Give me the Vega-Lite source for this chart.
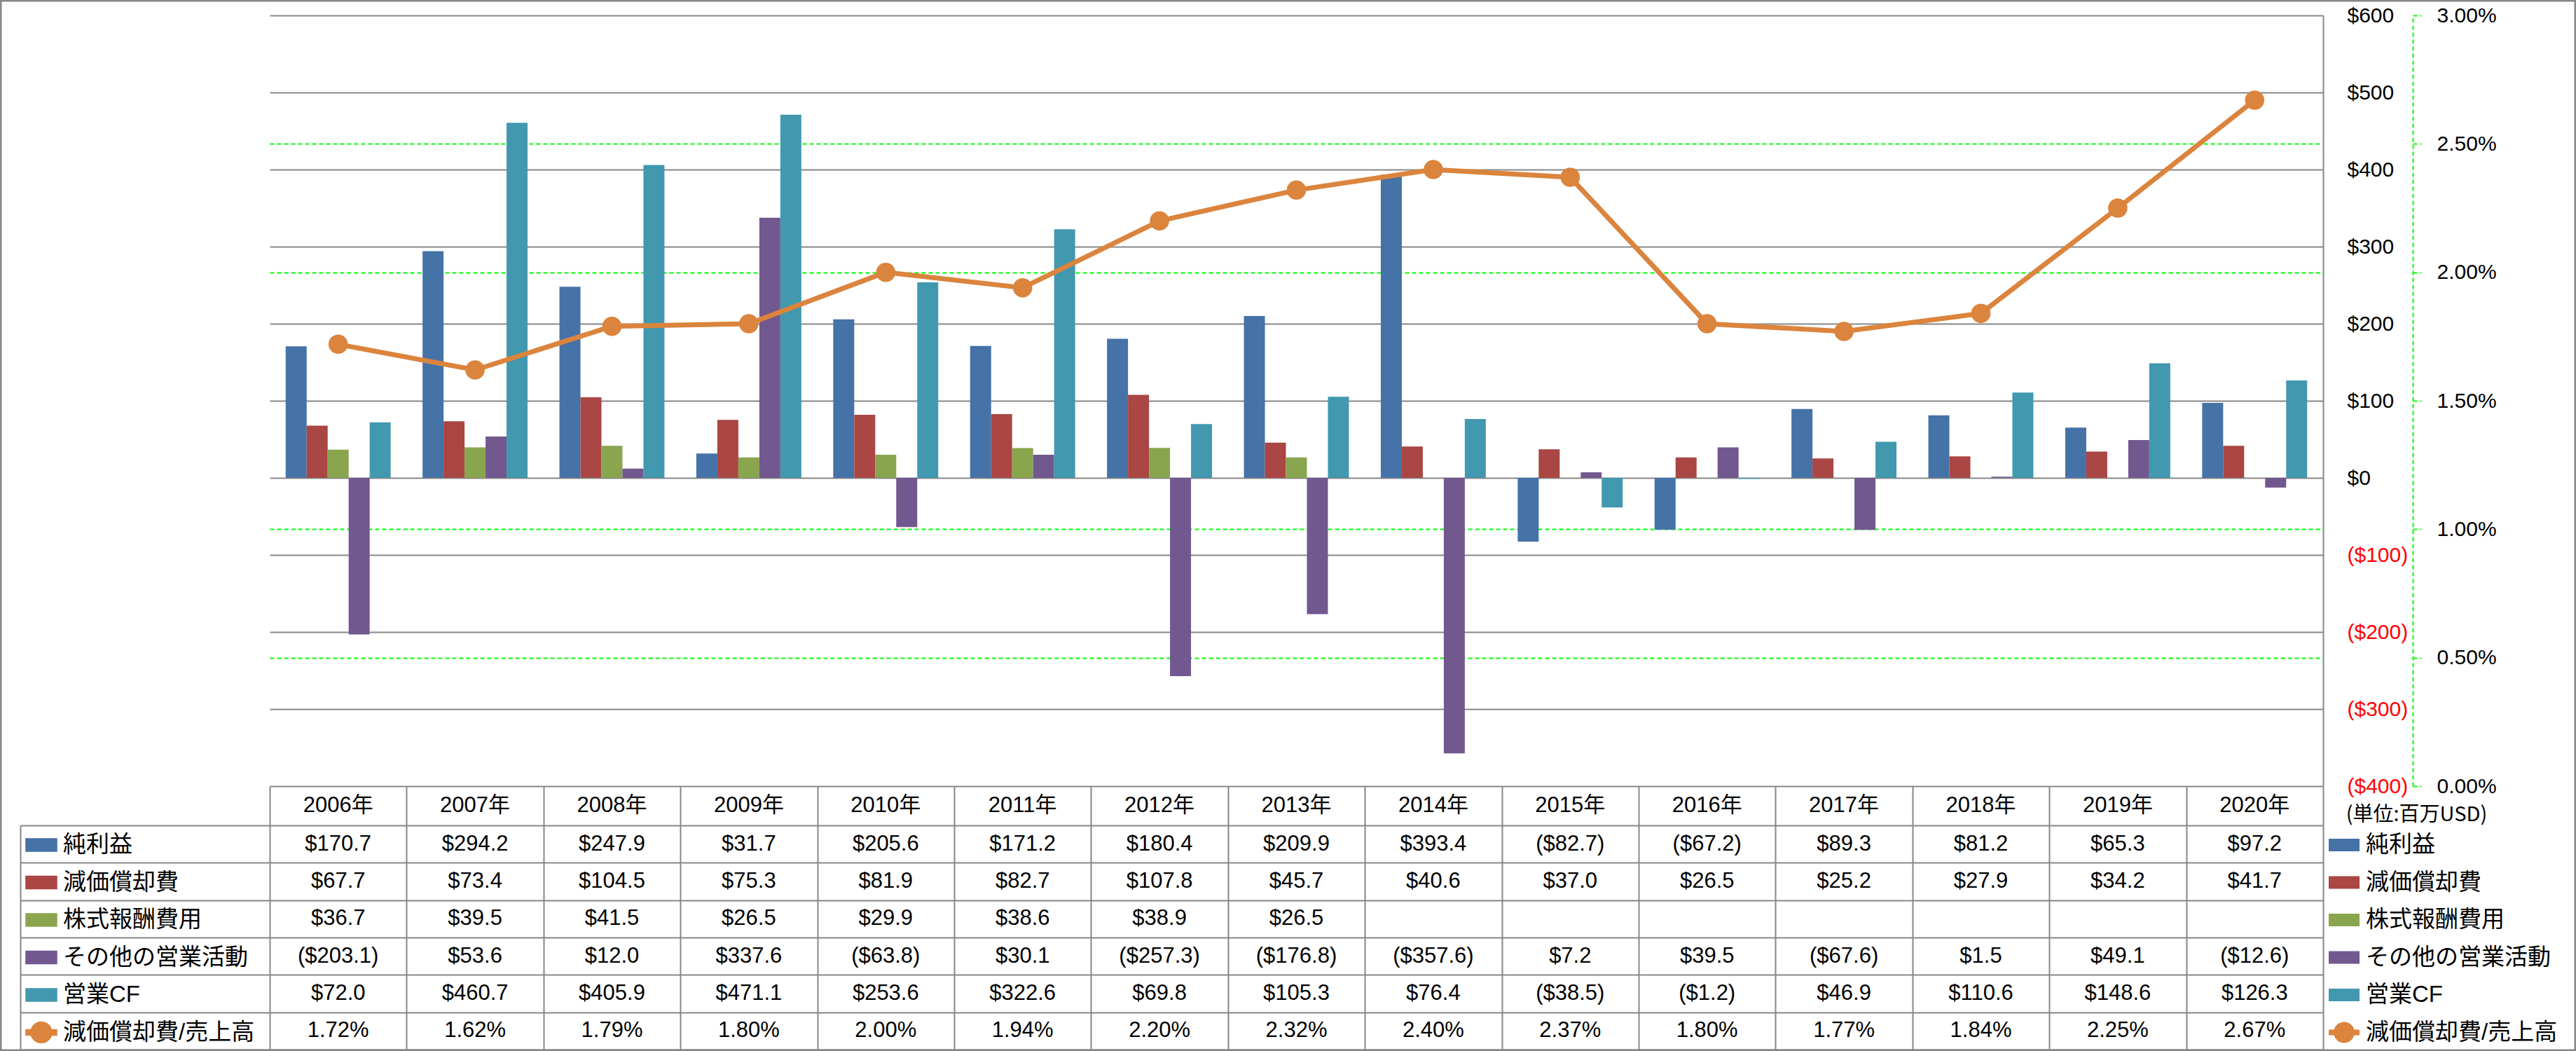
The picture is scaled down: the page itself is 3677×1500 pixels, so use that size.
{
  "$schema": "https://vega.github.io/schema/vega-lite/v6.json",
  "width": 3677,
  "height": 1500,
  "autosize": {"type": "none"},
  "padding": 0,
  "background": "white",
  "config": {
    "view": {"stroke": "#878787", "strokeWidth": 5},
    "font": "Liberation Sans, Noto Sans CJK JP",
    "axis": {"zindex": 0, "labelFont": "Liberation Sans", "labelFontSize": 30, "labelColor": "black", "grid": false, "labelFlush": false, "labelOverlap": false, "labelBound": false},
    "legend": {"orient": "none", "padding": 0, "symbolSize": 1936, "labelFont": "Liberation Sans, Noto Sans CJK JP", "labelFontSize": 33, "labelColor": "black", "labelOffset": 8, "labelLimit": 0, "rowPadding": 13.5, "direction": "vertical"}
  },
  "datasets": {
    "all": [
      {"year": "2006年", "series": "純利益", "value": 170.7},
      {"year": "2006年", "series": "減価償却費", "value": 67.7},
      {"year": "2006年", "series": "株式報酬費用", "value": 36.7},
      {"year": "2006年", "series": "その他の営業活動", "value": -203.1},
      {"year": "2006年", "series": "営業CF", "value": 72.0},
      {"year": "2006年", "series": "減価償却費/売上高", "value": 0.0172},
      {"year": "2007年", "series": "純利益", "value": 294.2},
      {"year": "2007年", "series": "減価償却費", "value": 73.4},
      {"year": "2007年", "series": "株式報酬費用", "value": 39.5},
      {"year": "2007年", "series": "その他の営業活動", "value": 53.6},
      {"year": "2007年", "series": "営業CF", "value": 460.7},
      {"year": "2007年", "series": "減価償却費/売上高", "value": 0.0162},
      {"year": "2008年", "series": "純利益", "value": 247.9},
      {"year": "2008年", "series": "減価償却費", "value": 104.5},
      {"year": "2008年", "series": "株式報酬費用", "value": 41.5},
      {"year": "2008年", "series": "その他の営業活動", "value": 12.0},
      {"year": "2008年", "series": "営業CF", "value": 405.9},
      {"year": "2008年", "series": "減価償却費/売上高", "value": 0.0179},
      {"year": "2009年", "series": "純利益", "value": 31.7},
      {"year": "2009年", "series": "減価償却費", "value": 75.3},
      {"year": "2009年", "series": "株式報酬費用", "value": 26.5},
      {"year": "2009年", "series": "その他の営業活動", "value": 337.6},
      {"year": "2009年", "series": "営業CF", "value": 471.1},
      {"year": "2009年", "series": "減価償却費/売上高", "value": 0.0180},
      {"year": "2010年", "series": "純利益", "value": 205.6},
      {"year": "2010年", "series": "減価償却費", "value": 81.9},
      {"year": "2010年", "series": "株式報酬費用", "value": 29.9},
      {"year": "2010年", "series": "その他の営業活動", "value": -63.8},
      {"year": "2010年", "series": "営業CF", "value": 253.6},
      {"year": "2010年", "series": "減価償却費/売上高", "value": 0.0200},
      {"year": "2011年", "series": "純利益", "value": 171.2},
      {"year": "2011年", "series": "減価償却費", "value": 82.7},
      {"year": "2011年", "series": "株式報酬費用", "value": 38.6},
      {"year": "2011年", "series": "その他の営業活動", "value": 30.1},
      {"year": "2011年", "series": "営業CF", "value": 322.6},
      {"year": "2011年", "series": "減価償却費/売上高", "value": 0.0194},
      {"year": "2012年", "series": "純利益", "value": 180.4},
      {"year": "2012年", "series": "減価償却費", "value": 107.8},
      {"year": "2012年", "series": "株式報酬費用", "value": 38.9},
      {"year": "2012年", "series": "その他の営業活動", "value": -257.3},
      {"year": "2012年", "series": "営業CF", "value": 69.8},
      {"year": "2012年", "series": "減価償却費/売上高", "value": 0.0220},
      {"year": "2013年", "series": "純利益", "value": 209.9},
      {"year": "2013年", "series": "減価償却費", "value": 45.7},
      {"year": "2013年", "series": "株式報酬費用", "value": 26.5},
      {"year": "2013年", "series": "その他の営業活動", "value": -176.8},
      {"year": "2013年", "series": "営業CF", "value": 105.3},
      {"year": "2013年", "series": "減価償却費/売上高", "value": 0.0232},
      {"year": "2014年", "series": "純利益", "value": 393.4},
      {"year": "2014年", "series": "減価償却費", "value": 40.6},
      {"year": "2014年", "series": "その他の営業活動", "value": -357.6},
      {"year": "2014年", "series": "営業CF", "value": 76.4},
      {"year": "2014年", "series": "減価償却費/売上高", "value": 0.0240},
      {"year": "2015年", "series": "純利益", "value": -82.7},
      {"year": "2015年", "series": "減価償却費", "value": 37.0},
      {"year": "2015年", "series": "その他の営業活動", "value": 7.2},
      {"year": "2015年", "series": "営業CF", "value": -38.5},
      {"year": "2015年", "series": "減価償却費/売上高", "value": 0.0237},
      {"year": "2016年", "series": "純利益", "value": -67.2},
      {"year": "2016年", "series": "減価償却費", "value": 26.5},
      {"year": "2016年", "series": "その他の営業活動", "value": 39.5},
      {"year": "2016年", "series": "営業CF", "value": -1.2},
      {"year": "2016年", "series": "減価償却費/売上高", "value": 0.0180},
      {"year": "2017年", "series": "純利益", "value": 89.3},
      {"year": "2017年", "series": "減価償却費", "value": 25.2},
      {"year": "2017年", "series": "その他の営業活動", "value": -67.6},
      {"year": "2017年", "series": "営業CF", "value": 46.9},
      {"year": "2017年", "series": "減価償却費/売上高", "value": 0.0177},
      {"year": "2018年", "series": "純利益", "value": 81.2},
      {"year": "2018年", "series": "減価償却費", "value": 27.9},
      {"year": "2018年", "series": "その他の営業活動", "value": 1.5},
      {"year": "2018年", "series": "営業CF", "value": 110.6},
      {"year": "2018年", "series": "減価償却費/売上高", "value": 0.0184},
      {"year": "2019年", "series": "純利益", "value": 65.3},
      {"year": "2019年", "series": "減価償却費", "value": 34.2},
      {"year": "2019年", "series": "その他の営業活動", "value": 49.1},
      {"year": "2019年", "series": "営業CF", "value": 148.6},
      {"year": "2019年", "series": "減価償却費/売上高", "value": 0.0225},
      {"year": "2020年", "series": "純利益", "value": 97.2},
      {"year": "2020年", "series": "減価償却費", "value": 41.7},
      {"year": "2020年", "series": "その他の営業活動", "value": -12.6},
      {"year": "2020年", "series": "営業CF", "value": 126.3},
      {"year": "2020年", "series": "減価償却費/売上高", "value": 0.0267}
    ]
  },
  "data": {"name": "all"},
  "layer": [
    {
      "transform": [{"filter": "datum.series !== '減価償却費/売上高'"}],
      "mark": {"type": "bar"},
      "encoding": {
        "x": {"field": "year", "type": "nominal", "scale": {"type": "band", "range": [385, 3316], "paddingInner": 0.233, "paddingOuter": 0.1165}, "axis": null},
        "xOffset": {"field": "series", "type": "nominal", "scale": {"domain": ["純利益", "減価償却費", "株式報酬費用", "その他の営業活動", "営業CF"], "paddingInner": 0, "paddingOuter": 0}},
        "y": {"field": "value", "type": "quantitative",
          "scale": {"domain": [-400, 600], "range": [1122, 22], "nice": false, "zero": false},
          "axis": {"orient": "right", "offset": -361, "values": [-400, -300, -200, -100, 0, 100, 200, 300, 400, 500, 600], "title": null, "grid": false, "ticks": true, "tickSize": -2931, "tickColor": "#878787", "tickWidth": 2, "domain": true, "domainColor": "#878787", "domainWidth": 2, "labelPadding": 2965, "labelAlign": "left", "labelBaseline": "middle", "format": "($,.0f", "labelColor": {"condition": {"test": "datum.value < 0", "value": "#FF0000"}, "value": "black"}}},
        "color": {"field": "series", "type": "nominal",
          "scale": {"domain": ["純利益", "減価償却費", "株式報酬費用", "その他の営業活動", "営業CF", "減価償却費/売上高"], "range": ["#4572A7", "#AA4643", "#89A54E", "#71588F", "#4198AF", "#DB843D"]},
          "legend": {"title": null, "legendX": 36, "legendY": 1183, "symbolType": "M-1,-0.41H1V0.41H-1Z",
            "encode": {"symbols": {"update": {"shape": {"signal": "datum.value === '減価償却費/売上高' ? 'M-1,-0.18H1V0.18H-1Z M0.68,0A0.68,0.68,0,1,1,-0.68,0A0.68,0.68,0,1,1,0.68,0Z' : 'M-1,-0.41H1V0.41H-1Z'"}, "fill": {"scale": "color", "field": "value"}, "stroke": {"value": "transparent"}, "opacity": {"value": 1}}}}}}
      }
    },
    {
      "transform": [{"filter": "datum.series === '減価償却費/売上高'"}],
      "mark": {"type": "line", "strokeWidth": 7, "point": {"filled": true, "size": 760, "opacity": 1}},
      "encoding": {
        "x": {"field": "year", "type": "nominal", "scale": {"type": "point", "range": [385, 3316], "padding": 0.5}, "axis": null},
        "y": {"field": "value", "type": "quantitative",
          "scale": {"domain": [0, 0.03], "range": [1122, 22], "nice": false, "zero": false},
          "axis": {"orient": "left", "offset": -385, "values": [0.005, 0.01, 0.02, 0.025], "title": null, "grid": false, "labels": false, "domain": false, "tickSize": -2931, "tickColor": "#00FF00", "tickDash": [6, 4], "tickWidth": 2}},
        "color": {"field": "series", "type": "nominal"}
      }
    },
    {
      "transform": [{"filter": "datum.series === '減価償却費/売上高'"}],
      "mark": {"type": "text", "text": ""},
      "encoding": {
        "y": {"field": "value", "type": "quantitative",
          "scale": {"domain": [0, 0.03], "range": [1122, 22], "nice": false, "zero": false},
          "axis": {"orient": "right", "offset": -233, "values": [0, 0.005, 0.01, 0.015, 0.02, 0.025, 0.03], "format": ".2%", "grid": false, "domain": true, "domainColor": "#00FF00", "domainDash": [6, 4], "domainWidth": 2, "tickSize": 12, "tickColor": "#00FF00", "tickDash": [6, 4], "tickWidth": 2, "labelPadding": 22, "labelAlign": "left", "labelBaseline": "middle",
            "title": "(単位:百万USD)", "titleAngle": 0, "titleX": 5, "titleY": 1162, "titleAlign": "center", "titleBaseline": "middle", "titleFont": "Noto Sans CJK JP", "titleFontSize": 29, "titleFontWeight": "normal", "titleColor": "black"}}
      }
    },
    {
      "transform": [{"filter": "datum.series !== '減価償却費/売上高'"}],
      "mark": {"type": "text", "fontSize": 31, "font": "Liberation Sans", "color": "black"},
      "encoding": {
        "x": {"field": "year", "type": "nominal", "bandPosition": 0.5,
          "scale": {"type": "band", "range": [385, 3316], "paddingInner": 0, "paddingOuter": 0},
          "axis": {"orient": "bottom", "offset": -378, "tickBand": "extent", "tickSize": 376, "tickColor": "#878787", "tickWidth": 2, "labels": false, "domain": false, "grid": false, "title": null}},
        "y": {"field": "series", "type": "nominal", "bandPosition": 0.5,
          "scale": {"type": "band", "domain": ["純利益", "減価償却費", "株式報酬費用", "その他の営業活動", "営業CF", "減価償却費/売上高"], "range": [1178, 1498], "paddingInner": 0, "paddingOuter": 0},
          "axis": {"orient": "left", "offset": -29, "tickBand": "extent", "tickSize": -3287, "tickColor": "#878787", "tickWidth": 2, "labels": false, "domain": true, "domainColor": "#878787", "domainWidth": 2, "grid": false, "title": null}},
        "text": {"field": "value", "type": "quantitative", "format": "($.1f"}
      }
    },
    {
      "transform": [{"filter": "datum.series === '減価償却費/売上高'"}],
      "mark": {"type": "text", "fontSize": 31, "font": "Liberation Sans", "color": "black"},
      "encoding": {
        "x": {"field": "year", "type": "nominal", "bandPosition": 0.5,
          "scale": {"type": "band", "range": [385, 3316], "paddingInner": 0, "paddingOuter": 0}, "axis": null},
        "y": {"field": "series", "type": "nominal", "bandPosition": 0.5,
          "scale": {"type": "band", "domain": ["純利益", "減価償却費", "株式報酬費用", "その他の営業活動", "営業CF", "減価償却費/売上高"], "range": [1178, 1498], "paddingInner": 0, "paddingOuter": 0}, "axis": null},
        "text": {"field": "value", "type": "quantitative", "format": ".2%"}
      }
    },
    {
      "transform": [{"filter": "datum.series === '減価償却費/売上高'"}],
      "mark": {"type": "text", "fontSize": 31, "font": "Liberation Sans, Noto Sans CJK JP", "color": "black"},
      "encoding": {
        "x": {"field": "year", "type": "nominal", "bandPosition": 0.5,
          "scale": {"type": "band", "range": [385, 3316], "paddingInner": 0, "paddingOuter": 0}, "axis": null},
        "y": {"datum": "header", "type": "nominal", "bandPosition": 0.5,
          "scale": {"type": "band", "domain": ["header"], "range": [1122, 1178], "paddingInner": 0, "paddingOuter": 0}, "axis": null},
        "text": {"field": "year", "type": "nominal"}
      }
    },
    {
      "mark": {"type": "text", "text": ""},
      "encoding": {
        "fill": {"field": "series", "type": "nominal",
          "sort": ["純利益", "減価償却費", "株式報酬費用", "その他の営業活動", "営業CF", "減価償却費/売上高"],
          "scale": {"range": ["#4572A7", "#AA4643", "#89A54E", "#71588F", "#4198AF", "#DB843D"]},
          "legend": {"title": null, "legendX": 3323, "legendY": 1183, "symbolType": "M-1,-0.41H1V0.41H-1Z",
            "encode": {"symbols": {"update": {"shape": {"signal": "datum.value === '減価償却費/売上高' ? 'M-1,-0.18H1V0.18H-1Z M0.68,0A0.68,0.68,0,1,1,-0.68,0A0.68,0.68,0,1,1,0.68,0Z' : 'M-1,-0.41H1V0.41H-1Z'"}, "fill": {"scale": "fill", "field": "value"}, "stroke": {"value": "transparent"}, "opacity": {"value": 1}}}}}}
      }
    }
  ],
  "resolve": {"scale": {"x": "independent", "y": "independent"}}
}
